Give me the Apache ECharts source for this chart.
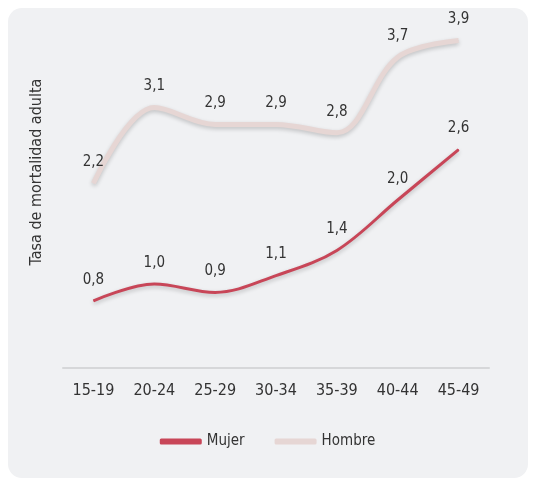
<!DOCTYPE html>
<html>
<head>
<meta charset="utf-8">
<script src="https://cdn.jsdelivr.net/npm/echarts@6/dist/echarts.min.js"></script>
<style>
    html, body { margin: 0; padding: 0; background: #fff; }
    #chart { width: 535px; height: 481px; }
</style>
</head>
<body>
<div id="chart"></div>
<script>
// datos
const categorias = ['15-19', '20-24', '25-29', '30-34', '35-39', '40-44', '45-49'];
const mujer = [0.8, 1.0, 0.9, 1.1, 1.4, 2.0, 2.6];
const hombre = [2.2, 3.1, 2.9, 2.9, 2.8, 3.7, 3.9];

const fuente = "'Liberation Sans Narrow', 'DejaVu Sans Condensed', sans-serif";
const colorTexto = '#333';

let chart = echarts.init(document.getElementById('chart'));

function etiqueta(p) {
    return p.value.toFixed(1).replace('.', ',');
}

let option = {
    animation: false,
    graphic: [
        {
            type: 'rect',
            z: -10,
            shape: { x: 8, y: 8, width: 520, height: 470, r: 14 },
            style: { fill: '#f0f1f3' }
        },
        {
            type: 'text',
            x: 37,
            y: 172,
            rotation: Math.PI / 2,
            style: {
                text: 'Tasa de mortalidad adulta',
                font: "16px 'Liberation Sans Narrow', 'DejaVu Sans Condensed', sans-serif",
                fill: colorTexto,
                align: 'center',
                verticalAlign: 'middle'
            }
        }
    ],
    grid: {
        left: 63,
        right: 46,
        top: 32,
        bottom: 113
    },
    legend: {
        data: ['Mujer', 'Hombre'],
        bottom: 27,
        left: 'center',
        itemWidth: 42,
        itemHeight: 6,
        itemGap: 30,
        icon: 'roundRect',
        textStyle: { fontFamily: fuente, fontSize: 15, color: colorTexto }
    },
    xAxis: {
        type: 'category',
        data: categorias,
        boundaryGap: true,
        axisLine: { lineStyle: { color: '#d6d7d9', width: 2 } },
        axisTick: { show: false },
        axisLabel: { fontFamily: fuente, fontSize: 16, color: colorTexto, margin: 15 }
    },
    yAxis: {
        type: 'value',
        min: 0,
        max: 4,
        axisLine: { show: false },
        axisTick: { show: false },
        axisLabel: { show: false },
        splitLine: { show: false }
    },
    series: [
        {
            name: 'Mujer',
            type: 'line',
            data: mujer,
            smooth: 0.35,
            symbol: 'circle',
            symbolSize: 1,
            itemStyle: { color: '#c84658' },
            lineStyle: {
                color: '#c84658',
                width: 3,
                shadowColor: 'rgba(0,0,0,0.22)',
                shadowBlur: 4,
                shadowOffsetY: 2
            },
            label: {
                show: true,
                position: 'top',
                distance: 13,
                formatter: etiqueta,
                fontFamily: fuente,
                fontSize: 15,
                color: colorTexto
            }
        },
        {
            name: 'Hombre',
            type: 'line',
            data: hombre,
            smooth: 0.35,
            symbol: 'circle',
            symbolSize: 1,
            itemStyle: { color: '#e6d6d4' },
            lineStyle: {
                color: '#e6d6d4',
                width: 5,
                shadowColor: 'rgba(0,0,0,0.2)',
                shadowBlur: 4,
                shadowOffsetY: 2
            },
            label: {
                show: true,
                position: 'top',
                distance: 13,
                formatter: etiqueta,
                fontFamily: fuente,
                fontSize: 15,
                color: colorTexto
            }
        }
    ]
};

option && chart.setOption(option);
</script>
</body>
</html>
